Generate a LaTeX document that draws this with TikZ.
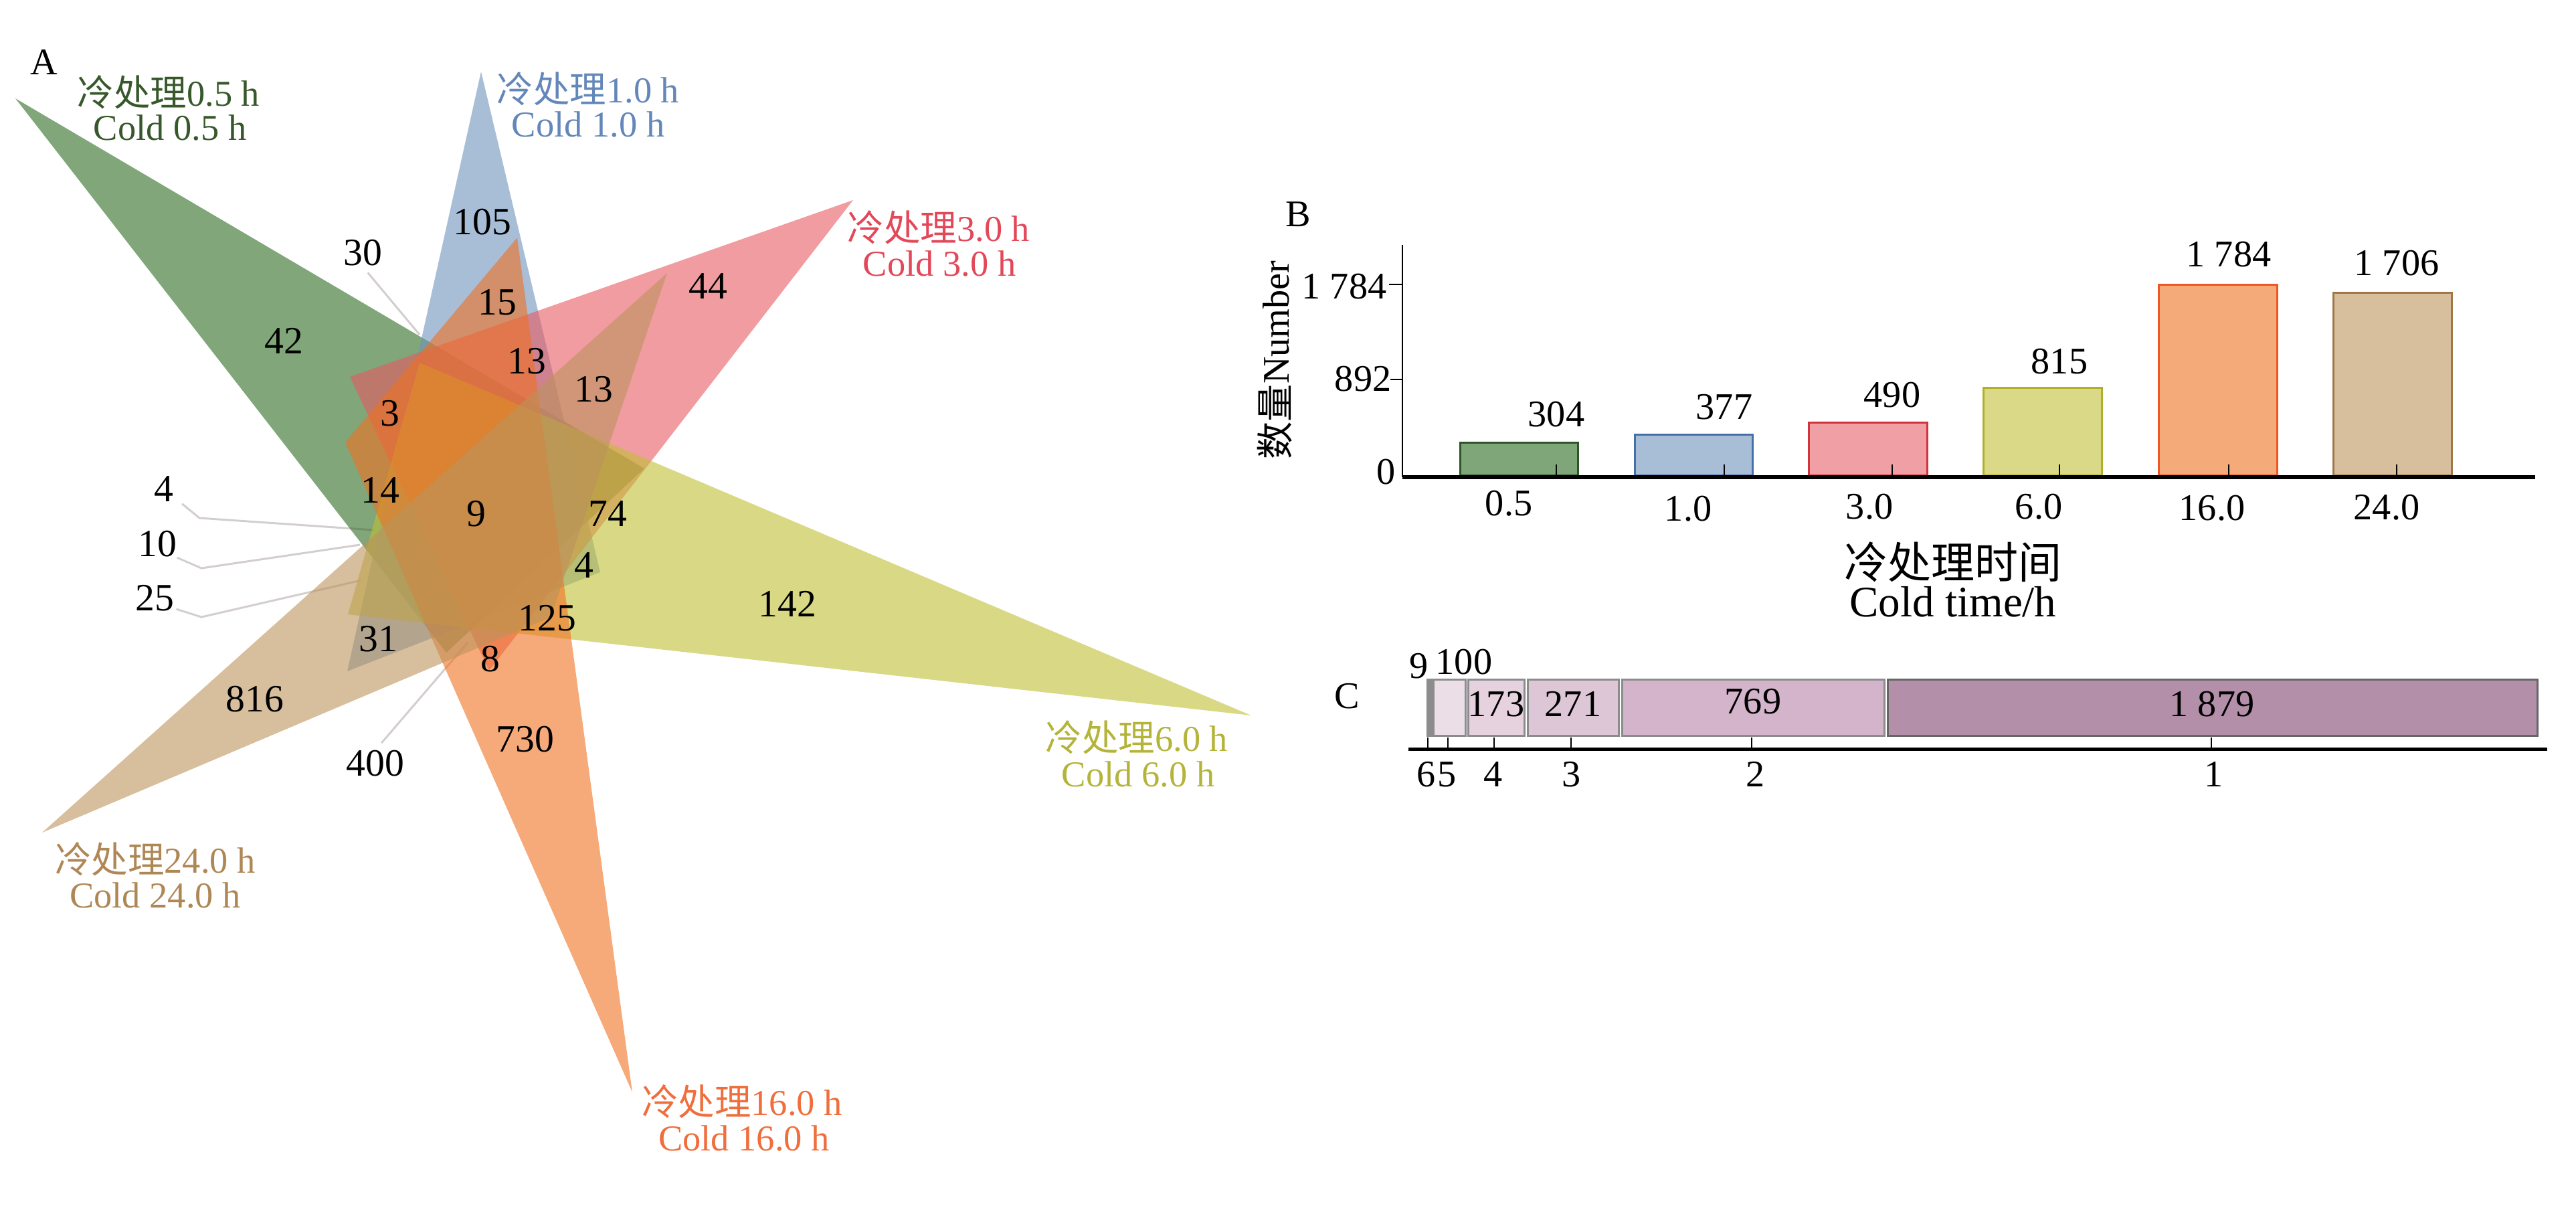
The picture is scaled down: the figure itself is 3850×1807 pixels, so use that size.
\documentclass[tikz,border=0pt]{standalone}
\usepackage{fontspec}
\setmainfont{Liberation Serif}
\newfontfamily\cjk{Noto Sans CJK SC}
\definecolor{cG}{RGB}{43,107,32}
\definecolor{cB}{RGB}{110,147,188}
\definecolor{cR}{RGB}{232,90,98}
\definecolor{cY}{RGB}{192,192,52}
\definecolor{cO}{RGB}{240,113,33}
\definecolor{cT}{RGB}{188,147,92}
\definecolor{tG}{RGB}{55,88,42}
\definecolor{tB}{RGB}{100,135,185}
\definecolor{tR}{RGB}{226,72,88}
\definecolor{tY}{RGB}{180,180,58}
\definecolor{tO}{RGB}{240,110,60}
\definecolor{tT}{RGB}{175,135,85}
\definecolor{fG}{RGB}{127,166,120}
\definecolor{fB}{RGB}{168,190,215}
\definecolor{fR}{RGB}{240,160,165}
\definecolor{fY}{RGB}{217,217,135}
\definecolor{fO}{RGB}{245,170,122}
\definecolor{fT}{RGB}{215,190,157}
\definecolor{dG}{RGB}{45,85,40}
\definecolor{dB}{RGB}{70,110,170}
\definecolor{dR}{RGB}{210,50,60}
\definecolor{dY}{RGB}{175,175,40}
\definecolor{dO}{RGB}{240,85,35}
\definecolor{dT}{RGB}{160,120,70}
\definecolor{leadc}{RGB}{212,206,206}
\definecolor{p1}{RGB}{236,222,231}
\definecolor{p2}{RGB}{230,210,223}
\definecolor{p3}{RGB}{221,199,215}
\definecolor{p4}{RGB}{211,180,203}
\definecolor{p5}{RGB}{180,143,169}
\begin{document}
\begin{tikzpicture}[x=0.1mm,y=-0.1mm,
  vnum/.style={inner sep=0pt, font=\fontsize{16.4}{19}\selectfont},
  lab/.style={anchor=base, inner sep=0pt, font=\fontsize{15.5}{18}\selectfont},
  leader/.style={draw=leadc, line width=0.3mm},
  venn/.style={opacity=0.6},
  bar/.style={line width=0.3mm},
  cbox/.style={draw=black!45, line width=0.3mm},
  tick/.style={line width=0.2mm, draw=black},
  panel/.style={inner sep=0pt, font=\fontsize{16}{19}\selectfont},
  axnum/.style={inner sep=0pt, font=\fontsize{16}{19}\selectfont},
  axtitle/.style={inner sep=0pt, align=center, font=\fontsize{18.5}{16}\selectfont}
]
\useasboundingbox (0,0) rectangle (3850,1807);

% ---------------- Panel A -----------------
\node[panel] (pA) at (66,93) {A};

% leader line end points
\coordinate (e30) at (627,500);
\coordinate (b4) at (298,774);
\coordinate (e4) at (559,792);
\coordinate (b10) at (301,849);
\coordinate (e10) at (538,814);
\coordinate (b25) at (301,922);
\coordinate (e25) at (540,867);
\coordinate (e400) at (699,960);

% numbers outside
\node[vnum] (n30) at (542,378) {30};
\node[vnum] (n4l) at (245,731) {4};
\node[vnum] (n10) at (235,813) {10};
\node[vnum] (n25) at (231,894) {25};
\node[vnum] (n400) at (561,1141) {400};

\draw[leader, shorten <=1.2mm] (n30.south) -- (e30);
\draw[leader] (n4l.south east) ++(12,2) -- (b4) -- (e4);
\draw[leader] (n10.south east) -- (b10) -- (e10);
\draw[leader] (n25.south east) ++(3,-4) -- (b25) -- (e25);
\draw[leader, shorten <=1.4mm] (n400.north) -- (e400);

% triangles
\fill[cG, venn] (23,147) -- (963,700) -- (667,975) -- cycle;
\fill[cB, venn] (719,107) -- (897,855) -- (519,1003) -- cycle;
\fill[cR, venn] (1275,299) -- (523,563) -- (731,1002) -- cycle;
\fill[cY, venn] (1870,1069) -- (627,542) -- (520,918) -- cycle;
\fill[cO, venn] (945,1632) -- (773,355) -- (516,661) -- cycle;
\fill[cT, venn] (63,1244) -- (997,408) -- (823,922) -- cycle;

% region numbers
\node[vnum] (n42) at (424,509) {42};
\node[vnum] (n105) at (721,332) {105};
\node[vnum] (n15) at (743,452) {15};
\node[vnum] (n13a) at (787,540) {13};
\node[vnum] (n13b) at (887,582) {13};
\node[vnum] (n44) at (1058,428) {44};
\node[vnum] (n3) at (583,618) {3};
\node[vnum] (n14) at (568,732) {14};
\node[vnum] (n9) at (712,768) {9};
\node[vnum] (n74) at (908,768) {74};
\node[vnum] (n4) at (873,845) {4};
\node[vnum] (n142) at (1177,902) {142};
\node[vnum] (n125) at (818,924) {125};
\node[vnum] (n31) at (565,955) {31};
\node[vnum] (n8) at (733,985) {8};
\node[vnum] (n816) at (381,1045) {816};
\node[vnum] (n730) at (785,1105) {730};

% set labels
\node[lab, text=tG] (g1) at (252,158) {{\cjk 冷处理}0.5 h};
\node[lab, text=tG] (g2) at (254,209) {Cold 0.5 h};
\node[lab, text=tB] (bl1) at (879,153) {{\cjk 冷处理}1.0 h};
\node[lab, text=tB] (bl2) at (879,204) {Cold 1.0 h};
\node[lab, text=tR] (r1) at (1403,360) {{\cjk 冷处理}3.0 h};
\node[lab, text=tR] (r2) at (1404,412) {Cold 3.0 h};
\node[lab, text=tY] (y1) at (1699,1122) {{\cjk 冷处理}6.0 h};
\node[lab, text=tY] (y2) at (1701,1175) {Cold 6.0 h};
\node[lab, text=tO] (o1) at (1109,1666) {{\cjk 冷处理}16.0 h};
\node[lab, text=tO] (o2) at (1112,1719) {Cold 16.0 h};
\node[lab, text=tT] (t1) at (232,1304) {{\cjk 冷处理}24.0 h};
\node[lab, text=tT] (t2) at (232,1356) {Cold 24.0 h};

% ---------------- Panel B -----------------
\node[panel] (pB) at (1940,320) {B};
\draw[bar, fill=fG, draw=dG] (2182,710) rectangle (2358,661.4);
\draw[bar, fill=fB, draw=dB] (2443,710) rectangle (2619,649.8);
\draw[bar, fill=fR, draw=dR] (2703,710) rectangle (2880,631.7);
\draw[bar, fill=fY, draw=dY] (2964,710) rectangle (3141,579.8);
\draw[bar, fill=fO, draw=dO] (3226,710) rectangle (3403,425);
\draw[bar, fill=fT, draw=dT] (3487,710) rectangle (3664,437.5);

\coordinate (ytop) at (2096,366);
\coordinate (yorig) at (2096,713);
\coordinate (xend) at (3789,713);
\draw[line width=0.2mm] (ytop) -- (yorig);
\draw[line width=0.55mm] (yorig) -- (xend);
\draw[tick] (2076,425) -- (2096,425);
\draw[tick] (2078,567) -- (2096,567);
\foreach \tx in {2326,2577,2828,3078,3331,3582} \draw[tick] (\tx,694) -- (\tx,711);

\node[axnum, anchor=east] (yl1) at (2073,428) {1 784};
\node[axnum, anchor=east] (yl2) at (2080,566) {892};
\node[axnum, anchor=east] (yl3) at (2086,705) {0};

\node[axnum] (v1) at (2326,619) {304};
\node[axnum] (v2) at (2577,608) {377};
\node[axnum] (v3) at (2828,590) {490};
\node[axnum] (v4) at (3078,540) {815};
\node[axnum] (v5) at (3331,380) {1 784};
\node[axnum] (v6) at (3582,393) {1 706};

\node[axnum] (x1) at (2255,752) {0.5};
\node[axnum] (x2) at (2523,760) {1.0};
\node[axnum] (x3) at (2794,757) {3.0};
\node[axnum] (x4) at (3047,757) {6.0};
\node[axnum] (x5) at (3306,759) {16.0};
\node[axnum] (x6) at (3567,758) {24.0};

\node[axnum, rotate=90] (ylab) at (1905,538) {{\cjk 数量}Number};
\node[axtitle] (xlab) at (2919,866) {{\cjk 冷处理时间}\\Cold time/h};

% ---------------- Panel C -----------------
\node[panel] (pC) at (2013,1040) {C};
\draw[cbox, fill=black!45] (2133,1015) rectangle (2140,1099);
\draw[cbox, fill=p1] (2142,1015) rectangle (2190,1099);
\draw[cbox, fill=p2] (2194,1015) rectangle (2278,1099);
\draw[cbox, fill=p3] (2283,1015) rectangle (2419,1099);
\draw[cbox, fill=p4] (2424,1015) rectangle (2816,1099);
\draw[cbox, fill=p5, draw=black!60] (2821,1015) rectangle (3792,1099);

\coordinate (cax1) at (2105,1119);
\coordinate (cax2) at (3807,1119);
\draw[line width=0.5mm] (cax1) -- (cax2);
\foreach \tx in {2134,2164,2233,2348,2618,3305} \draw[tick, line width=0.15mm] (\tx,1102) -- (\tx,1121);

\node[axnum] (c9) at (2121,995) {9};
\node[axnum] (c100) at (2188,989) {100};
\node[axnum] (c173) at (2236,1052) {173};
\node[axnum] (c271) at (2351,1052) {271};
\node[axnum] (c769) at (2620,1048) {769};
\node[axnum] (c1879) at (3306,1052) {1 879};

\node[axnum] (k6) at (2132,1157) {6};
\node[axnum] (k5) at (2163,1157) {5};
\node[axnum] (k4) at (2232,1157) {4};
\node[axnum] (k3) at (2349,1157) {3};
\node[axnum] (k2) at (2624,1157) {2};
\node[axnum] (k1) at (3309,1157) {1};
\end{tikzpicture}
\end{document}
